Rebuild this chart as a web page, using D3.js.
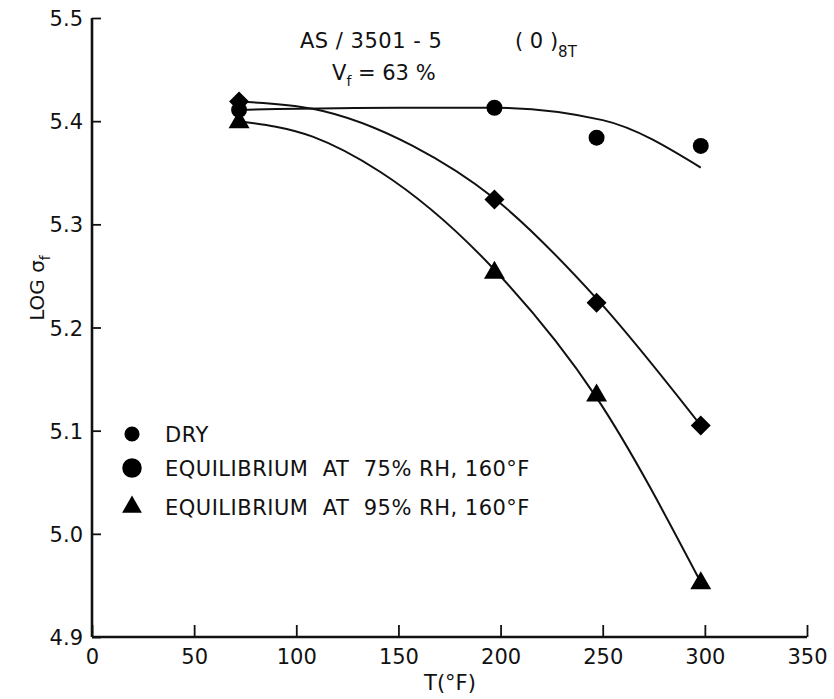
<!DOCTYPE html>
<html><head><meta charset="utf-8">
<script src="https://cdn.jsdelivr.net/npm/d3@7/dist/d3.min.js"></script>
<style>body{margin:0;background:#fff}svg{display:block}text{font-family:"DejaVu Sans",sans-serif;fill:#111}</style>
</head><body><svg id="c" width="834" height="699"></svg>
<script>
// Data
const xTicks = [0,50,100,150,200,250,300,350];
const yTicks = [4.9,5.0,5.1,5.2,5.3,5.4,5.5];
const temps = [72,197,247,298];
const dry = [5.411,5.413,5.384,5.376];
const rh75 = [5.419,5.324,5.224,5.105];
const rh95 = [5.400,5.254,5.135,4.953];
// fitted curves
const dryCurveX = [72,150,197,250,298];
const dryCurveY = [5.411,5.413,5.413,5.401,5.355];
const rh75CurveX = [72,108,157,197,247,298];
const rh75CurveY = [5.419,5.412,5.376,5.325,5.228,5.105];
const rh95CurveX = [72,108,141,197,247,298];
const rh95CurveY = [5.400,5.385,5.351,5.256,5.132,4.953];
const legendLabels = ["DRY","EQUILIBRIUM  AT  75% RH, 160°F","EQUILIBRIUM  AT  95% RH, 160°F"];

const svg = d3.select("#c");
const x = d3.scaleLinear().domain([0,350]).range([92,807]);
const y = d3.scaleLinear().domain([4.9,5.5]).range([637,18]);

// axes
const xAxis = d3.axisBottom(x).tickValues(xTicks).tickSize(-12).tickPadding(16).tickFormat(d3.format("d"));
const gx = svg.append("g").attr("transform","translate(0,637)").call(xAxis);
gx.select(".domain").attr("stroke","#111").attr("stroke-width",2.6).attr("d","M92,0H807");
gx.selectAll(".tick line").attr("stroke","#111").attr("stroke-width",1.8);
gx.selectAll(".tick text").attr("font-size",21).attr("dy","0.5em");

const yAxis = d3.axisLeft(y).tickValues(yTicks).tickSize(-9).tickPadding(9).tickFormat(d3.format(".1f"));
const gy = svg.append("g").attr("transform","translate(92,0)").call(yAxis);
gy.select(".domain").attr("stroke","#111").attr("stroke-width",2.6).attr("d","M0,18V637");
gy.selectAll(".tick line").attr("stroke","#111").attr("stroke-width",1.8);
gy.selectAll(".tick text").attr("font-size",21).attr("dy","0.36em");

// axis titles
svg.append("text").attr("x",450).attr("y",690).attr("text-anchor","middle").attr("font-size",21).text("T(°F)");
const yl = svg.append("text").attr("transform","translate(44,288) rotate(-90)").attr("text-anchor","middle").attr("font-size",20);
yl.append("tspan").text("LOG σ");
yl.append("tspan").attr("font-size",14).attr("dy",6).text("f");

// curves
const line = d3.line().x(d=>x(d[0])).y(d=>y(d[1])).curve(d3.curveMonotoneX);
[[dryCurveX,dryCurveY],[rh75CurveX,rh75CurveY],[rh95CurveX,rh95CurveY]].forEach(([xs,ys])=>{
  svg.append("path").datum(xs.map((v,i)=>[v,ys[i]])).attr("d",line)
    .attr("fill","none").attr("stroke","#111").attr("stroke-width",2);
});

// markers
const circ = d3.symbol().type(d3.symbolCircle).size(200);
const diam = d3.symbol().type(d3.symbolSquare).size(200);
const tri = d3.symbol().type(d3.symbolTriangle).size(190);
svg.append("g").selectAll("path").data(temps.map((t,i)=>[t,dry[i]])).join("path")
  .attr("transform",d=>`translate(${x(d[0])},${y(d[1])})`).attr("d",circ).attr("fill","#000");
svg.append("g").selectAll("path").data(temps.map((t,i)=>[t,rh75[i]])).join("path")
  .attr("transform",d=>`translate(${x(d[0])},${y(d[1])}) rotate(45)`).attr("d",diam).attr("fill","#000");
svg.append("g").selectAll("path").data(temps.map((t,i)=>[t,rh95[i]])).join("path")
  .attr("transform",d=>`translate(${x(d[0])},${y(d[1])+1})`).attr("d",tri).attr("fill","#000");

// legend
const legY = [434,468,507];
const legSym = [d3.symbol().type(d3.symbolCircle).size(180), d3.symbol().type(d3.symbolCircle).size(300), d3.symbol().type(d3.symbolTriangle).size(170)];
legendLabels.forEach((lab,i)=>{
  svg.append("path").attr("transform",`translate(132,${legY[i]})`).attr("d",legSym[i]()).attr("fill","#000");
  svg.append("text").attr("x",165).attr("y",legY[i]).attr("dy","0.36em").attr("font-size",21)
    .attr("letter-spacing","0.5px").attr("xml:space","preserve").text(lab);
});

// title
svg.append("text").attr("x",300).attr("y",48).attr("font-size",21).attr("letter-spacing","0.5px").text("AS / 3501 - 5");
const t2 = svg.append("text").attr("x",515).attr("y",48).attr("font-size",21);
t2.append("tspan").text("( 0 )");
t2.append("tspan").attr("font-size",15).attr("dy",9).text("8T");
const t3 = svg.append("text").attr("x",332).attr("y",80).attr("font-size",21);
t3.append("tspan").text("V");
t3.append("tspan").attr("font-size",14).attr("dy",6).text("f");
t3.append("tspan").attr("dy",-6).text(" = 63 %");
</script></body></html>
